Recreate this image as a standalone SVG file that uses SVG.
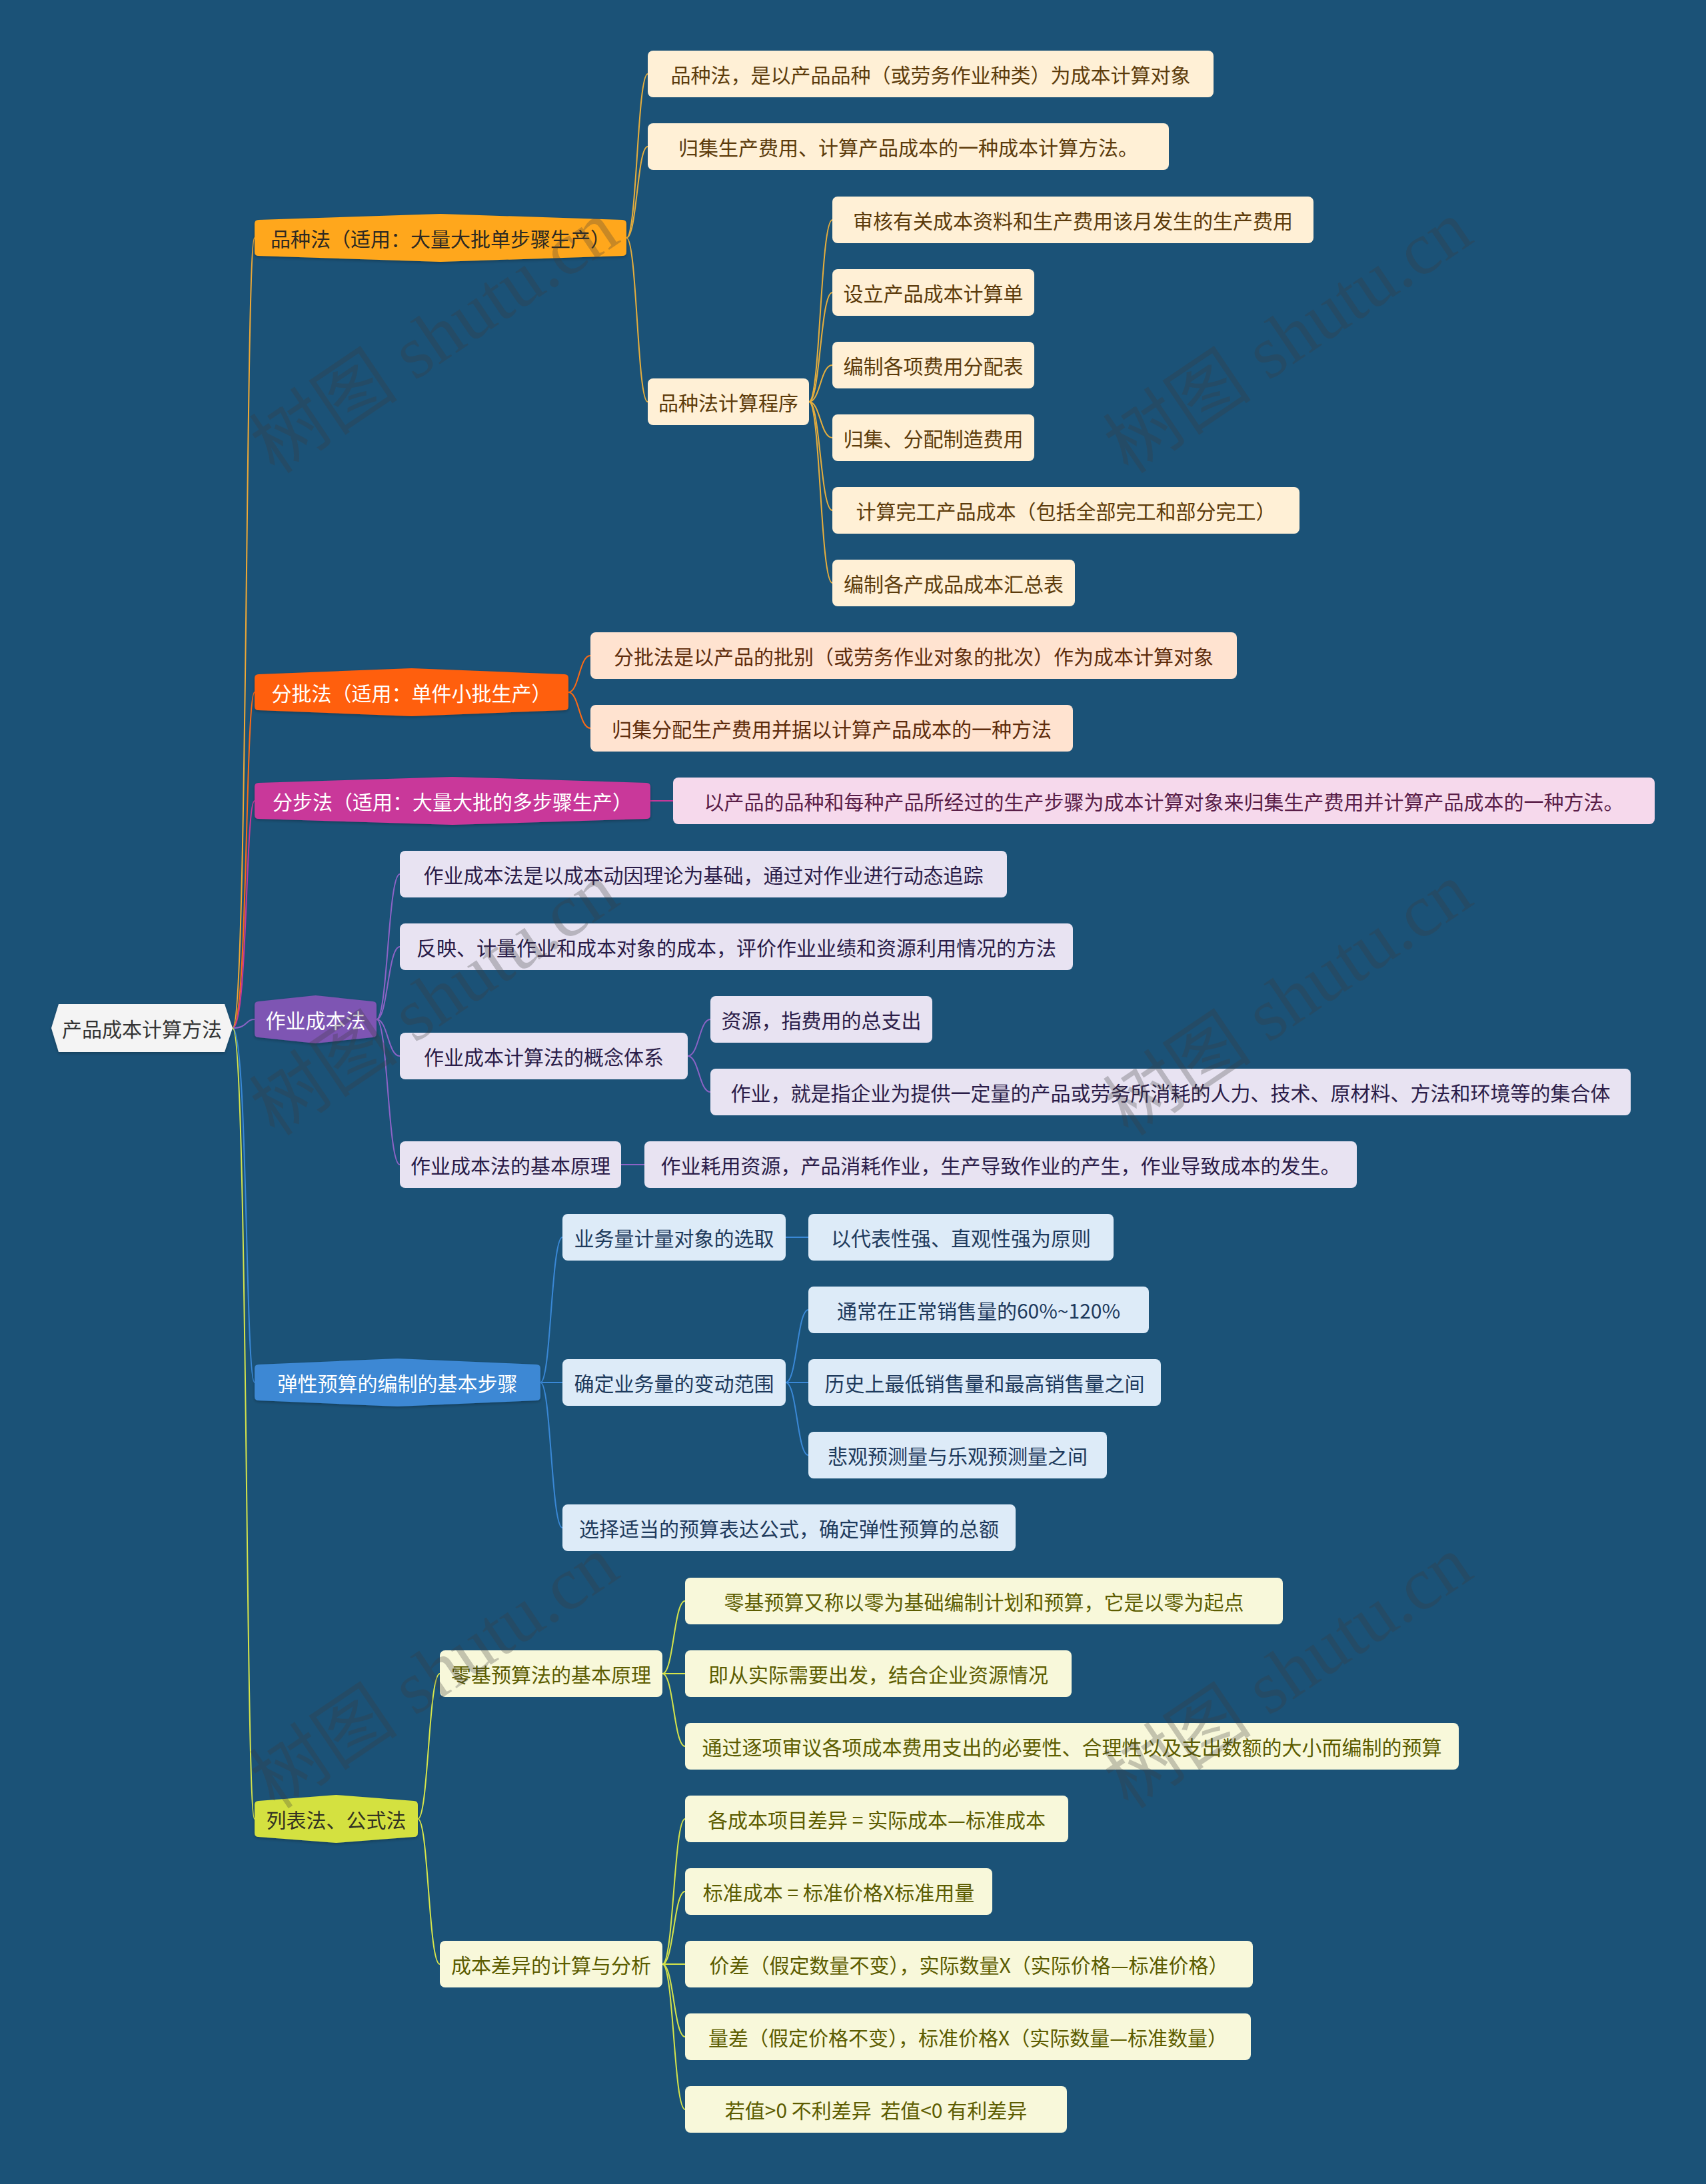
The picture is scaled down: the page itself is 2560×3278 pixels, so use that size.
<svg xmlns="http://www.w3.org/2000/svg" width="2560" height="3278" viewBox="0 0 2560 3278">
<defs>
<style>
.t{font-family:"Noto Sans CJK SC","Microsoft YaHei",sans-serif;font-size:30px;text-anchor:middle;dominant-baseline:central}
.c{fill:none;stroke-width:2}
.n2{rx:8;ry:8}
.wm{font-family:"Liberation Serif","Noto Sans CJK SC",serif;font-size:112px;fill:#3c3c3c;opacity:0.28;text-anchor:middle;dominant-baseline:central}
</style>
<filter id="sh" x="-5%" y="-20%" width="110%" height="150%">
<feDropShadow dx="0" dy="2" stdDeviation="2" flood-color="#000" flood-opacity="0.25"/>
</filter>
</defs>
<rect width="2560" height="3278" fill="#1B5277"/>

<g id="connectors">
<path class="c" stroke="#F0A935" d="M349 1543 C372 1543 368 357 382 357"/>
<path class="c" stroke="#FF6A13" d="M349 1543 C372 1543 368 1039 382 1039"/>
<path class="c" stroke="#C8389A" d="M349 1543 C372 1543 368 1202 382 1202"/>
<path class="c" stroke="#8C63C6" d="M349 1543 C372 1543 368 1530 382 1530"/>
<path class="c" stroke="#3A88D6" d="M349 1543 C372 1543 368 2075 382 2075"/>
<path class="c" stroke="#D6E44A" d="M349 1543 C372 1543 368 2730 382 2730"/>

<path class="c" stroke="#E7AE3C" d="M940 357 C956 357 956 111 972 111"/>
<path class="c" stroke="#E7AE3C" d="M940 357 C956 357 956 220 972 220"/>
<path class="c" stroke="#E7AE3C" d="M940 357 C956 357 956 603 972 603"/>
<path class="c" stroke="#E7AE3C" d="M1214 603 C1231 603 1231 330 1249 330"/>
<path class="c" stroke="#E7AE3C" d="M1214 603 C1231 603 1231 439 1249 439"/>
<path class="c" stroke="#E7AE3C" d="M1214 603 C1231 603 1231 548 1249 548"/>
<path class="c" stroke="#E7AE3C" d="M1214 603 C1231 603 1231 657 1249 657"/>
<path class="c" stroke="#E7AE3C" d="M1214 603 C1231 603 1231 766 1249 766"/>
<path class="c" stroke="#E7AE3C" d="M1214 603 C1231 603 1231 875 1249 875"/>

<path class="c" stroke="#FF6A13" d="M853 1039 C869 1039 869 984 886 984"/>
<path class="c" stroke="#FF6A13" d="M853 1039 C869 1039 869 1093 886 1093"/>

<path class="c" stroke="#C8389A" d="M976 1202 L1010 1202"/>

<path class="c" stroke="#8C63C6" d="M565 1530 C582 1530 582 1312 600 1312"/>
<path class="c" stroke="#8C63C6" d="M565 1530 C582 1530 582 1421 600 1421"/>
<path class="c" stroke="#8C63C6" d="M565 1530 C582 1530 582 1585 600 1585"/>
<path class="c" stroke="#8C63C6" d="M565 1530 C582 1530 582 1748 600 1748"/>
<path class="c" stroke="#8C63C6" d="M1032 1585 C1049 1585 1049 1530 1066 1530"/>
<path class="c" stroke="#8C63C6" d="M1032 1585 C1049 1585 1049 1639 1066 1639"/>
<path class="c" stroke="#8C63C6" d="M932 1748 L967 1748"/>

<path class="c" stroke="#3A88D6" d="M811 2075 C827 2075 827 1857 844 1857"/>
<path class="c" stroke="#3A88D6" d="M811 2075 L844 2075"/>
<path class="c" stroke="#3A88D6" d="M811 2075 C827 2075 827 2293 844 2293"/>
<path class="c" stroke="#3A88D6" d="M1179 1857 L1213 1857"/>
<path class="c" stroke="#3A88D6" d="M1179 2075 C1196 2075 1196 1966 1213 1966"/>
<path class="c" stroke="#3A88D6" d="M1179 2075 L1213 2075"/>
<path class="c" stroke="#3A88D6" d="M1179 2075 C1196 2075 1196 2184 1213 2184"/>

<path class="c" stroke="#D6E44A" d="M627 2730 C643 2730 643 2512 660 2512"/>
<path class="c" stroke="#D6E44A" d="M627 2730 C643 2730 643 2948 660 2948"/>
<path class="c" stroke="#D6E44A" d="M994 2512 C1011 2512 1011 2403 1028 2403"/>
<path class="c" stroke="#D6E44A" d="M994 2512 L1028 2512"/>
<path class="c" stroke="#D6E44A" d="M994 2512 C1011 2512 1011 2621 1028 2621"/>
<path class="c" stroke="#D6E44A" d="M994 2948 C1011 2948 1011 2730 1028 2730"/>
<path class="c" stroke="#D6E44A" d="M994 2948 C1011 2948 1011 2839 1028 2839"/>
<path class="c" stroke="#D6E44A" d="M994 2948 L1028 2948"/>
<path class="c" stroke="#D6E44A" d="M994 2948 C1011 2948 1011 3057 1028 3057"/>
<path class="c" stroke="#D6E44A" d="M994 2948 C1011 2948 1011 3166 1028 3166"/>
</g>

<g id="root">
<polygon points="77,1543 88,1507 337,1507 349,1543 337,1579 88,1579" fill="#F4F4F4" filter="url(#sh)"/>
<text class="t" x="213" y="1543" fill="#333333">产品成本计算方法</text>
</g>

<g id="n-A">
<path filter="url(#sh)" fill="#FFA71A" d="M388 330 L661 321 L934 330 Q940 330 940 336 L940 378 Q940 384 934 384 L661 393 L388 384 Q382 384 382 378 L382 336 Q382 330 388 330 Z"/>
<text class="t" x="661" y="357" fill="#2E2A22">品种法（适用：大量大批单步骤生产）</text>
</g>
<g id="n-B">
<path filter="url(#sh)" fill="#FF5E0E" d="M388 1012 L617.5 1003 L847 1012 Q853 1012 853 1018 L853 1060 Q853 1066 847 1066 L617.5 1075 L388 1066 Q382 1066 382 1060 L382 1018 Q382 1012 388 1012 Z"/>
<text class="t" x="617.5" y="1039" fill="#FFFFFF">分批法（适用：单件小批生产）</text>
</g>
<g id="n-C">
<path filter="url(#sh)" fill="#C9379A" d="M388 1175 L679 1166 L970 1175 Q976 1175 976 1181 L976 1223 Q976 1229 970 1229 L679 1238 L388 1229 Q382 1229 382 1223 L382 1181 Q382 1175 388 1175 Z"/>
<text class="t" x="679" y="1202" fill="#FFFFFF">分步法（适用：大量大批的多步骤生产）</text>
</g>
<g id="n-D">
<path filter="url(#sh)" fill="#7E55B3" d="M388 1503 L473.5 1494 L559 1503 Q565 1503 565 1509 L565 1551 Q565 1557 559 1557 L473.5 1566 L388 1557 Q382 1557 382 1551 L382 1509 Q382 1503 388 1503 Z"/>
<text class="t" x="473.5" y="1530" fill="#FFFFFF">作业成本法</text>
</g>
<g id="n-E">
<path filter="url(#sh)" fill="#3C88D4" d="M388 2048 L596.5 2039 L805 2048 Q811 2048 811 2054 L811 2096 Q811 2102 805 2102 L596.5 2111 L388 2102 Q382 2102 382 2096 L382 2054 Q382 2048 388 2048 Z"/>
<text class="t" x="596.5" y="2075" fill="#FFFFFF">弹性预算的编制的基本步骤</text>
</g>
<g id="n-F">
<path filter="url(#sh)" fill="#D4E141" d="M388 2703 L504.5 2694 L621 2703 Q627 2703 627 2709 L627 2751 Q627 2757 621 2757 L504.5 2766 L388 2757 Q382 2757 382 2751 L382 2709 Q382 2703 388 2703 Z"/>
<text class="t" x="504.5" y="2730" fill="#333322">列表法、公式法</text>
</g>

<g id="n-A1"><rect class="n2" x="972" y="76" width="849" height="70" fill="#FFF0D6"/><text class="t" x="1396.5" y="111" fill="#5C3B0B">品种法，是以产品品种（或劳务作业种类）为成本计算对象</text></g>
<g id="n-A2"><rect class="n2" x="972" y="185" width="782" height="70" fill="#FFF0D6"/><text class="t" x="1363" y="220" fill="#5C3B0B">归集生产费用、计算产品成本的一种成本计算方法。</text></g>
<g id="n-A3"><rect class="n2" x="972" y="568" width="242" height="70" fill="#FFF0D6"/><text class="t" x="1093" y="603" fill="#5C3B0B">品种法计算程序</text></g>
<g id="n-A3a"><rect class="n2" x="1249" y="295" width="722" height="70" fill="#FFF0D6"/><text class="t" x="1610" y="330" fill="#5C3B0B">审核有关成本资料和生产费用该月发生的生产费用</text></g>
<g id="n-A3b"><rect class="n2" x="1249" y="404" width="303" height="70" fill="#FFF0D6"/><text class="t" x="1400.5" y="439" fill="#5C3B0B">设立产品成本计算单</text></g>
<g id="n-A3c"><rect class="n2" x="1249" y="513" width="303" height="70" fill="#FFF0D6"/><text class="t" x="1400.5" y="548" fill="#5C3B0B">编制各项费用分配表</text></g>
<g id="n-A3d"><rect class="n2" x="1249" y="622" width="303" height="70" fill="#FFF0D6"/><text class="t" x="1400.5" y="657" fill="#5C3B0B">归集、分配制造费用</text></g>
<g id="n-A3e"><rect class="n2" x="1249" y="731" width="701" height="70" fill="#FFF0D6"/><text class="t" x="1599.5" y="766" fill="#5C3B0B">计算完工产品成本（包括全部完工和部分完工）</text></g>
<g id="n-A3f"><rect class="n2" x="1249" y="840" width="364" height="70" fill="#FFF0D6"/><text class="t" x="1431" y="875" fill="#5C3B0B">编制各产成品成本汇总表</text></g>

<g id="n-B1"><rect class="n2" x="886" y="949" width="970" height="70" fill="#FFE3D0"/><text class="t" x="1371" y="984" fill="#5E2C0C">分批法是以产品的批别（或劳务作业对象的批次）作为成本计算对象</text></g>
<g id="n-B2"><rect class="n2" x="886" y="1058" width="724" height="70" fill="#FFE3D0"/><text class="t" x="1248" y="1093" fill="#5E2C0C">归集分配生产费用并据以计算产品成本的一种方法</text></g>

<g id="n-C1"><rect class="n2" x="1010" y="1167" width="1473" height="70" fill="#F6D9EC"/><text class="t" x="1746.5" y="1202" fill="#5A1E48">以产品的品种和每种产品所经过的生产步骤为成本计算对象来归集生产费用并计算产品成本的一种方法。</text></g>

<g id="n-D1"><rect class="n2" x="600" y="1277" width="911" height="70" fill="#E8E3F2"/><text class="t" x="1055.5" y="1312" fill="#2A1C48">作业成本法是以成本动因理论为基础，通过对作业进行动态追踪</text></g>
<g id="n-D2"><rect class="n2" x="600" y="1386" width="1010" height="70" fill="#E8E3F2"/><text class="t" x="1105" y="1421" fill="#2A1C48">反映、计量作业和成本对象的成本，评价作业业绩和资源利用情况的方法</text></g>
<g id="n-D3"><rect class="n2" x="600" y="1550" width="432" height="70" fill="#E8E3F2"/><text class="t" x="816" y="1585" fill="#2A1C48">作业成本计算法的概念体系</text></g>
<g id="n-D3a"><rect class="n2" x="1066" y="1495" width="333" height="70" fill="#E8E3F2"/><text class="t" x="1232.5" y="1530" fill="#2A1C48">资源，指费用的总支出</text></g>
<g id="n-D3b"><rect class="n2" x="1066" y="1604" width="1381" height="70" fill="#E8E3F2"/><text class="t" x="1756.5" y="1639" fill="#2A1C48">作业，就是指企业为提供一定量的产品或劳务所消耗的人力、技术、原材料、方法和环境等的集合体</text></g>
<g id="n-D4"><rect class="n2" x="600" y="1713" width="332" height="70" fill="#E8E3F2"/><text class="t" x="766" y="1748" fill="#2A1C48">作业成本法的基本原理</text></g>
<g id="n-D4a"><rect class="n2" x="967" y="1713" width="1069" height="70" fill="#E8E3F2"/><text class="t" x="1501.5" y="1748" fill="#2A1C48">作业耗用资源，产品消耗作业，生产导致作业的产生，作业导致成本的发生。</text></g>

<g id="n-E1"><rect class="n2" x="844" y="1822" width="335" height="70" fill="#DDEBF8"/><text class="t" x="1011.5" y="1857" fill="#1E3A5C">业务量计量对象的选取</text></g>
<g id="n-E1a"><rect class="n2" x="1213" y="1822" width="458" height="70" fill="#DDEBF8"/><text class="t" x="1442" y="1857" fill="#1E3A5C">以代表性强、直观性强为原则</text></g>
<g id="n-E2"><rect class="n2" x="844" y="2040" width="335" height="70" fill="#DDEBF8"/><text class="t" x="1011.5" y="2075" fill="#1E3A5C">确定业务量的变动范围</text></g>
<g id="n-E2a"><rect class="n2" x="1213" y="1931" width="511" height="70" fill="#DDEBF8"/><text class="t" x="1468.5" y="1966" fill="#1E3A5C">通常在正常销售量的60%~120%</text></g>
<g id="n-E2b"><rect class="n2" x="1213" y="2040" width="529" height="70" fill="#DDEBF8"/><text class="t" x="1477.5" y="2075" fill="#1E3A5C">历史上最低销售量和最高销售量之间</text></g>
<g id="n-E2c"><rect class="n2" x="1213" y="2149" width="448" height="70" fill="#DDEBF8"/><text class="t" x="1437" y="2184" fill="#1E3A5C">悲观预测量与乐观预测量之间</text></g>
<g id="n-E3"><rect class="n2" x="844" y="2258" width="680" height="70" fill="#DDEBF8"/><text class="t" x="1184" y="2293" fill="#1E3A5C">选择适当的预算表达公式，确定弹性预算的总额</text></g>

<g id="n-F1"><rect class="n2" x="660" y="2477" width="334" height="70" fill="#F8F8DA"/><text class="t" x="827" y="2512" fill="#5C5C00">零基预算法的基本原理</text></g>
<g id="n-F1a"><rect class="n2" x="1028" y="2368" width="897" height="70" fill="#F8F8DA"/><text class="t" x="1476.5" y="2403" fill="#5C5C00">零基预算又称以零为基础编制计划和预算，它是以零为起点</text></g>
<g id="n-F1b"><rect class="n2" x="1028" y="2477" width="580" height="70" fill="#F8F8DA"/><text class="t" x="1318" y="2512" fill="#5C5C00">即从实际需要出发，结合企业资源情况</text></g>
<g id="n-F1c"><rect class="n2" x="1028" y="2586" width="1161" height="70" fill="#F8F8DA"/><text class="t" x="1608.5" y="2621" fill="#5C5C00">通过逐项审议各项成本费用支出的必要性、合理性以及支出数额的大小而编制的预算</text></g>
<g id="n-F2"><rect class="n2" x="660" y="2913" width="334" height="70" fill="#F8F8DA"/><text class="t" x="827" y="2948" fill="#5C5C00">成本差异的计算与分析</text></g>
<g id="n-F2a"><rect class="n2" x="1028" y="2695" width="575" height="70" fill="#F8F8DA"/><text class="t" x="1315.5" y="2730" fill="#5C5C00">各成本项目差异 = 实际成本—标准成本</text></g>
<g id="n-F2b"><rect class="n2" x="1028" y="2804" width="461" height="70" fill="#F8F8DA"/><text class="t" x="1258.5" y="2839" fill="#5C5C00">标准成本 = 标准价格X标准用量</text></g>
<g id="n-F2c"><rect class="n2" x="1028" y="2913" width="852" height="70" fill="#F8F8DA"/><text class="t" x="1454" y="2948" fill="#5C5C00">价差（假定数量不变），实际数量X（实际价格—标准价格）</text></g>
<g id="n-F2d"><rect class="n2" x="1028" y="3022" width="849" height="70" fill="#F8F8DA"/><text class="t" x="1452.5" y="3057" fill="#5C5C00">量差（假定价格不变），标准价格X（实际数量—标准数量）</text></g>
<g id="n-F2e"><rect class="n2" x="1028" y="3131" width="573" height="70" fill="#F8F8DA"/><text class="t" x="1314.5" y="3166" fill="#5C5C00" style="white-space:pre">若值&gt;0 不利差异  若值&lt;0 有利差异</text></g>

<g id="watermark">
<text class="wm" x="652" y="506" transform="rotate(-34 652 506)">树图 shutu.cn</text>
<text class="wm" x="1933" y="506" transform="rotate(-34 1933 506)">树图 shutu.cn</text>
<text class="wm" x="652" y="1500" transform="rotate(-34 652 1500)">树图 shutu.cn</text>
<text class="wm" x="1933" y="1500" transform="rotate(-34 1933 1500)">树图 shutu.cn</text>
<text class="wm" x="652" y="2510" transform="rotate(-34 652 2510)">树图 shutu.cn</text>
<text class="wm" x="1933" y="2510" transform="rotate(-34 1933 2510)">树图 shutu.cn</text>
</g>
</svg>
